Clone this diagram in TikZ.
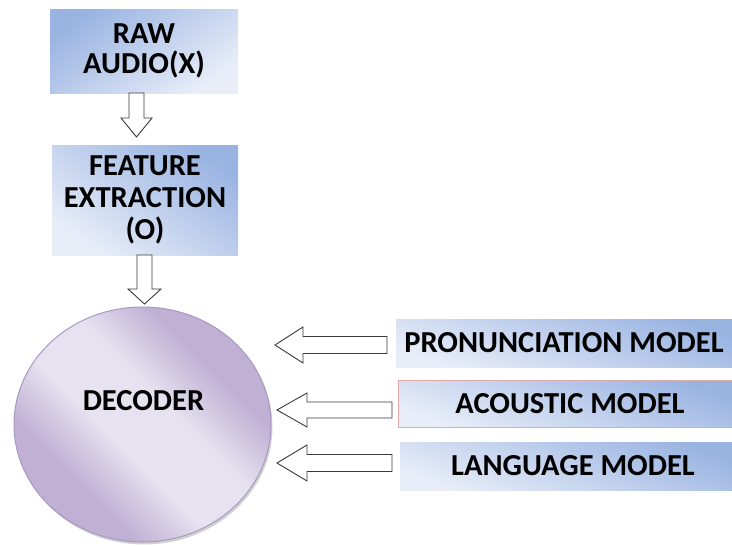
\documentclass[tikz,border=0pt]{standalone}
\usepackage{fontspec}
\setmainfont{Carlito}
\usetikzlibrary{calc,shadows,shapes.geometric}

\definecolor{bluedark}{HTML}{9AB4E2}
\definecolor{bluelight}{HTML}{E8EDF8}
\definecolor{purpdark}{HTML}{BFB0D4}
\definecolor{purplight}{HTML}{E7E2F0}
\definecolor{purpedge}{HTML}{A898C2}
\definecolor{arrowline}{HTML}{3A3A3A}
\definecolor{pinkedge}{HTML}{E2A9AB}

% light band running from top-left to bottom-right across the decoder
\pgfdeclarehorizontalshading{decodershade}{100bp}{%
  color(0bp)=(purpdark); color(32bp)=(purpdark); color(44bp)=(purplight);
  color(56bp)=(purplight); color(68bp)=(purpdark); color(100bp)=(purpdark)}

\tikzset{
  boxfont/.style={font=\bfseries\fontsize{30.5}{32}\selectfont},
  bluebox/.style={boxfont, align=center, inner sep=0pt, draw=none,
    top color=bluedark, bottom color=bluelight},
  blockarr/.style={draw=arrowline, line width=0.9pt, fill=white, line join=miter},
}

% block arrow: start, tip, half shaft width, half head width, head length
\newcommand\blockarrow[5]{%
  \path ($(#2)!#5!(#1)$) coordinate (hb);
  \draw[blockarr] ($(#1)!#3!90:(#2)$) -- ($(hb)!#3!90:(#2)$) -- ($(hb)!#4!90:(#2)$)
    -- (#2) -- ($(hb)!#4!-90:(#2)$) -- ($(hb)!#3!-90:(#2)$) -- ($(#1)!#3!-90:(#2)$) -- cycle;
}

\begin{document}
\begin{tikzpicture}[x=1pt,y=-1pt]
\useasboundingbox (0,0) rectangle (732,546);

% processing chain
\node[bluebox, shading angle=35, minimum width=188pt, minimum height=84pt]
  (raw) at (144,51) {RAW\\[-2pt]AUDIO(X)};
\node[bluebox, shading angle=-35, minimum width=186pt, minimum height=110pt]
  (feat) at (145,200) {FEATURE\\EXTRACTION\\(O)};

% decoder
\node[ellipse, minimum width=257pt, minimum height=235pt, inner sep=0pt,
  draw=purpedge, line width=1pt, shading=decodershade, shading angle=45,
  drop shadow={shadow xshift=1.5pt, shadow yshift=-2.5pt, fill=black!40, opacity=.45}]
  (dec) at (142.5,424.5) {};
\node[boxfont] (dectext) at (143.5,401) {DECODER};

% knowledge sources
\node[bluebox, shading angle=-20, minimum width=336pt, minimum height=48pt]
  (pron) at (564,343) {PRONUNCIATION MODEL};
\node[bluebox, shading angle=-20, draw=pinkedge, line width=0.8pt,
  minimum width=334pt, minimum height=47pt]
  (acou) at (565,403.5) {\hspace*{10pt}ACOUSTIC MODEL};
\node[bluebox, shading angle=-20, minimum width=332pt, minimum height=48pt]
  (lang) at (566,466) {\hspace*{14pt}LANGUAGE MODEL};

% arrow end points
\coordinate (a1s) at (136.5,93);   \coordinate (a1e) at (136.5,137);
\coordinate (a2s) at (144.5,255);  \coordinate (a2e) at (144.5,304);
\coordinate (a3s) at (387,345);    \coordinate (a3e) at (275,345);
\coordinate (a4s) at (392,410);    \coordinate (a4e) at (277,410);
\coordinate (a5s) at (392,463);    \coordinate (a5e) at (277,463);

\blockarrow{a1s}{a1e}{7.5pt}{15.5pt}{19pt}
\blockarrow{a2s}{a2e}{7.5pt}{16.5pt}{15pt}
\blockarrow{a3s}{a3e}{8.5pt}{18pt}{28pt}
\blockarrow{a4s}{a4e}{8pt}{17pt}{30pt}
\blockarrow{a5s}{a5e}{8.5pt}{18pt}{30pt}
\end{tikzpicture}
\end{document}
